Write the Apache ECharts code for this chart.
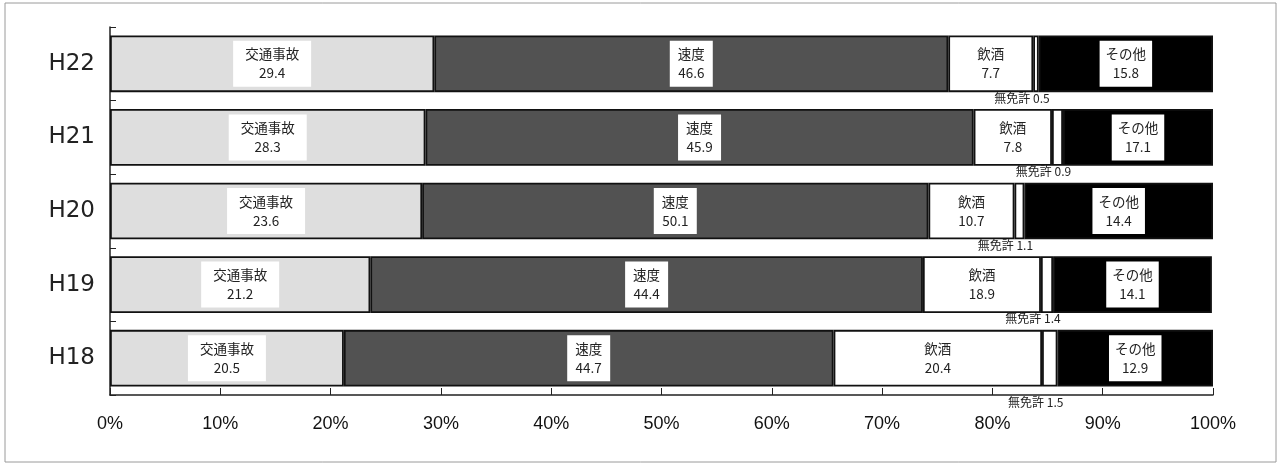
<!DOCTYPE html>
<html>
<head>
<meta charset="utf-8">
<script src="https://cdn.jsdelivr.net/npm/echarts@6/dist/echarts.min.js"></script>
<style>
html,body{margin:0;padding:0;background:#fff;}
#c{width:1282px;height:467px;}
</style>
</head>
<body>
<div id="c"></div>
<script>
// categories (top to bottom)
const categories = ['H22', 'H21', 'H20', 'H19', 'H18'];
// segment widths as drawn in the picture (%)
const koutsu   = [29.4, 28.6, 28.3, 23.6, 21.2];
const sokudo   = [46.6, 49.7, 45.9, 50.1, 44.4];
const insyu    = [7.7, 7.1, 7.8, 10.7, 18.9];
const mumenkyo = [0.5, 1.0, 0.9, 1.1, 1.4];
const sonota   = [15.8, 13.6, 17.1, 14.4, 14.1];
// printed numbers in the labels
const koutsuLabel = ['29.4', '28.3', '23.6', '21.2', '20.5'];
const sokudoLabel = ['46.6', '45.9', '50.1', '44.4', '44.7'];
const insyuLabel  = ['7.7', '7.8', '10.7', '18.9', '20.4'];
const mumenLabel  = ['0.5', '0.9', '1.1', '1.4', '1.5'];
const sonotaLabel = ['15.8', '17.1', '14.4', '14.1', '12.9'];
const xTicks = [0, 10, 20, 30, 40, 50, 60, 70, 80, 90, 100];

const JP = "'Noto Sans CJK JP', 'Noto Sans', sans-serif";

function boxLabel(name, texts, padX) {
  return {
    show: true,
    position: 'inside',
    formatter: p => name + '\n' + texts[p.dataIndex],
    backgroundColor: '#ffffff',
    padding: [4, padX],
    lineHeight: 19,
    fontSize: 13.5,
    fontFamily: JP,
    color: '#222'
  };
}

function seg(name, data, color, label) {
  return {
    name: name,
    type: 'bar',
    stack: 'all',
    barWidth: '77%',
    data: data,
    itemStyle: { color: color, borderColor: '#111', borderWidth: 1.8 },
    label: label,
    emphasis: { disabled: true }
  };
}

// last row's 無免許 label sits below the x axis line
const mumenData = mumenkyo.map((v, i) =>
  i === mumenkyo.length - 1 ? { value: v, label: { distance: 10 } } : v);

const chart = echarts.init(document.getElementById('c'));
chart.setOption({
  animation: false,
  backgroundColor: '#ffffff',
  graphic: [{
    type: 'rect',
    shape: { x: 5, y: 3, width: 1271, height: 459 },
    style: { fill: 'none', stroke: '#9a9a9a', lineWidth: 1 },
    silent: true
  }],
  grid: { left: 110, right: 69, top: 27, bottom: 72 },
  xAxis: {
    type: 'value',
    min: 0, max: 100, interval: 10,
    axisLine: { show: true, lineStyle: { color: '#222', width: 1.5 } },
    axisTick: { show: true, inside: true, length: 7, lineStyle: { color: '#222' } },
    splitLine: { show: false },
    axisLabel: {
      formatter: v => xTicks.includes(v) ? v + '%' : '',
      fontSize: 18, color: '#111', margin: 20,
      fontFamily: "'Liberation Sans', Arial, sans-serif"
    }
  },
  yAxis: {
    type: 'category',
    data: categories,
    inverse: true,
    axisLine: { show: true, lineStyle: { color: '#222', width: 1.5 } },
    axisTick: { show: true, inside: true, length: 6, lineStyle: { color: '#222' } },
    axisLabel: {
      fontSize: 23, color: '#222', margin: 15,
      fontFamily: "'DejaVu Sans', sans-serif"
    }
  },
  series: [
    seg('交通事故', koutsu, '#dedede', boxLabel('交通事故', koutsuLabel, 12)),
    seg('速度', sokudo, '#525252', boxLabel('速度', sokudoLabel, 8)),
    seg('飲酒', insyu, '#ffffff', boxLabel('飲酒', insyuLabel, 6)),
    seg('無免許', mumenData, '#ffffff', {
      show: true,
      position: 'bottom',
      distance: 0,
      offset: [-14, 0],
      formatter: p => '無免許 ' + mumenLabel[p.dataIndex],
      fontSize: 12,
      fontFamily: JP,
      color: '#222'
    }),
    seg('その他', sonota, '#000000', boxLabel('その他', sonotaLabel, 6))
  ]
});
</script>
</body>
</html>
